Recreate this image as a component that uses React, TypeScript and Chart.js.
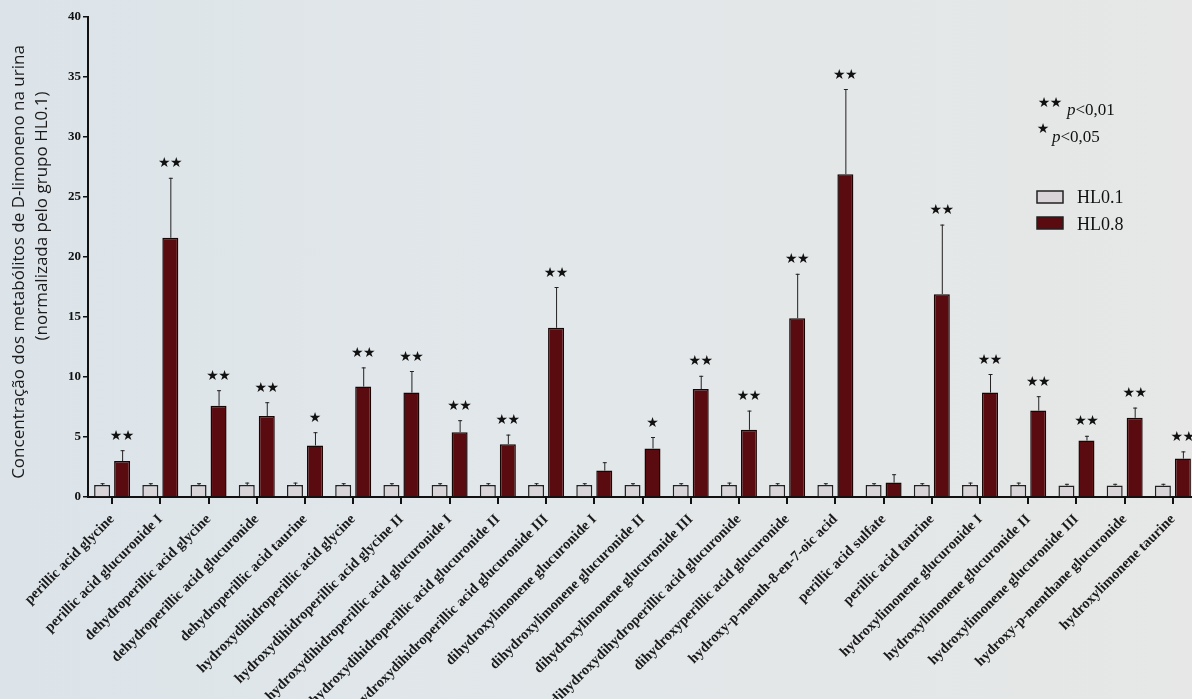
import React, { useEffect, useRef } from "react";
import { Chart, registerables } from "chart.js";
Chart.register(...registerables);

const categories = [
  "perillic acid glycine",
  "perillic acid glucuronide I",
  "dehydroperillic acid glycine",
  "dehydroperillic acid glucuronide",
  "dehydroperillic acid taurine",
  "hydroxydihidroperillic acid glycine",
  "hydroxydihidroperillic acid glycine II",
  "hydroxydihidroperillic acid glucuronide I",
  "hydroxydihidroperillic acid glucuronide II",
  "hydroxydihidroperillic acid glucuronide III",
  "dihydroxylimonene glucuronide I",
  "dihydroxylimonene glucuronide II",
  "dihydroxylimonene glucuronide III",
  "dihydroxydihydroperillic acid glucuronide",
  "dihydroxyperillic acid glucuronide",
  "hydroxy-p-menth-8-en-7-oic acid",
  "perillic acid sulfate",
  "perillic acid taurine",
  "hydroxylimonene glucuronide I",
  "hydroxylimonene glucuronide II",
  "hydroxylimonene glucuronide III",
  "hydroxy-p-menthane glucuronide",
  "hydroxylimonene taurine",
];

const hl01 = [1, 1, 1, 1, 1, 1, 1, 1, 1, 1, 1, 1, 1, 1, 1, 1, 1, 1, 1, 1, 0.95, 0.95, 0.95];
const hl01Err = [0.15, 0.15, 0.15, 0.2, 0.2, 0.15, 0.15, 0.15, 0.15, 0.15, 0.15, 0.15, 0.15, 0.2, 0.15, 0.15, 0.15, 0.15, 0.2, 0.2, 0.15, 0.15, 0.15];
const hl08 = [3.0, 21.6, 7.6, 6.75, 4.3, 9.2, 8.7, 5.4, 4.4, 14.1, 2.2, 4.05, 9.0, 5.6, 14.9, 26.9, 1.2, 16.9, 8.7, 7.2, 4.7, 6.6, 3.2];
const hl08Err = [0.9, 5.0, 1.3, 1.15, 1.1, 1.6, 1.8, 1.0, 0.8, 3.4, 0.7, 0.95, 1.1, 1.6, 3.7, 7.1, 0.7, 5.8, 1.55, 1.2, 0.4, 0.85, 0.6];
const significance = ["**", "**", "**", "**", "*", "**", "**", "**", "**", "**", "", "*", "**", "**", "**", "**", "", "**", "**", "**", "**", "**", "**"];
const seriesNames = ["HL0.1", "HL0.8"];
const yTitleLines = ["Concentração dos metabólitos de D-limoneno na urina", "(normalizada pelo grupo HL0.1)"];
const pLegend = [
  { stars: "**", text: "<0,01" },
  { stars: "*", text: "<0,05" },
];

const LIGHT = "#d9d4d8";
const DARK = "#5a0b10";
const SERIF = "'Liberation Serif', 'DejaVu Serif', serif";

export default function App() {
  const ref = useRef<HTMLCanvasElement>(null);

  useEffect(() => {
    const canvas = ref.current!;
    const drawStars = (ctx: CanvasRenderingContext2D, s: string, cx: number, cy: number, size: number, gap: number) => {
      ctx.save();
      ctx.font = `${size}px 'DejaVu Sans', sans-serif`;
      ctx.textAlign = "center";
      ctx.textBaseline = "middle";
      ctx.fillStyle = "#111";
      const n = s.length;
      for (let k = 0; k < n; k++) {
        const x = cx + (k - (n - 1) / 2) * gap;
        ctx.fillText("★", x, cy);
      }
      ctx.restore();
    };

    const overlay = {
      id: "overlay",
      afterDatasetsDraw(chart: any) {
        const ctx: CanvasRenderingContext2D = chart.ctx;
        const y = chart.scales.y;
        const errs = [hl01Err, hl08Err];
        const vals = [hl01, hl08];
        ctx.save();
        ctx.strokeStyle = "#222";
        ctx.lineWidth = 1;
        for (let d = 0; d < 2; d++) {
          const meta = chart.getDatasetMeta(d);
          meta.data.forEach((bar: any, i: number) => {
            const top = y.getPixelForValue(vals[d][i]);
            const et = y.getPixelForValue(vals[d][i] + errs[d][i]);
            ctx.beginPath();
            ctx.moveTo(bar.x + 0.5, top);
            ctx.lineTo(bar.x + 0.5, et);
            ctx.moveTo(bar.x - 1.5, et + 0.5);
            ctx.lineTo(bar.x + 2.5, et + 0.5);
            ctx.stroke();
            if (d === 1 && significance[i]) {
              drawStars(ctx, significance[i], bar.x, et - 14, 14, 12);
            }
          });
        }
        ctx.restore();

        // y-axis title
        [
          { x: 19, y: 262 },
          { x: 42, y: 216 },
        ].forEach((p, i) => {
          ctx.save();
          ctx.fillStyle = "#1a1a1a";
          ctx.font = "17px 'Open Sans', sans-serif";
          ctx.textAlign = "center";
          ctx.textBaseline = "middle";
          ctx.translate(p.x, p.y);
          ctx.rotate(-Math.PI / 2);
          ctx.fillText(yTitleLines[i], 0, 0);
          ctx.restore();
        });

        // p legend
        const pPos = [
          { sx: 1050, sy: 103, tx: 1067, ty: 115 },
          { sx: 1043, sy: 129, tx: 1052, ty: 142 },
        ];
        pLegend.forEach((p, i) => {
          const pos = pPos[i];
          drawStars(ctx, p.stars, pos.sx, pos.sy, 14, 12);
          ctx.save();
          ctx.fillStyle = "#111";
          ctx.textBaseline = "alphabetic";
          ctx.textAlign = "left";
          ctx.font = `italic 17px ${SERIF}`;
          ctx.fillText("p", pos.tx, pos.ty);
          const w = ctx.measureText("p").width;
          ctx.font = `17px ${SERIF}`;
          ctx.fillText(p.text, pos.tx + w, pos.ty);
          ctx.restore();
        });

        // series legend
        const boxes = [
          { y: 191, fill: LIGHT, ty: 203 },
          { y: 217, fill: DARK, ty: 230 },
        ];
        boxes.forEach((b, i) => {
          ctx.save();
          ctx.fillStyle = b.fill;
          ctx.fillRect(1037, b.y, 26, 12);
          ctx.strokeStyle = "#222";
          ctx.lineWidth = 1.5;
          ctx.strokeRect(1037, b.y, 26, 12);
          ctx.fillStyle = "#111";
          ctx.font = `18px ${SERIF}`;
          ctx.textAlign = "left";
          ctx.textBaseline = "alphabetic";
          ctx.fillText(seriesNames[i], 1077, b.ty);
          ctx.restore();
        });
      },
    };

    const chart = new Chart(canvas, {
      type: "bar",
      data: {
        labels: categories,
        datasets: [
          {
            label: seriesNames[0],
            data: hl01,
            backgroundColor: LIGHT,
            borderColor: "#222",
            borderWidth: 1.5,
            categoryPercentage: 0.83,
            barPercentage: 0.8,
          },
          {
            label: seriesNames[1],
            data: hl08,
            backgroundColor: DARK,
            borderColor: "#1a0505",
            borderWidth: 1.5,
            categoryPercentage: 0.83,
            barPercentage: 0.8,
          },
        ],
      },
      options: {
        responsive: false,
        animation: false,
        layout: { padding: { top: 17, right: 3, left: 0, bottom: 0 } },
        plugins: { legend: { display: false }, tooltip: { enabled: false } },
        scales: {
          x: {
            afterFit: (s: any) => {
              s.height = 202;
            },
            border: { display: true, color: "#111", width: 2 },
            grid: {
              offset: false,
              drawOnChartArea: false,
              drawTicks: true,
              tickLength: 7,
              color: "#111",
              lineWidth: 2,
            },
            ticks: {
              autoSkip: false,
              maxRotation: 45,
              minRotation: 45,
              padding: 7,
              color: "#1a1a1a",
              font: { family: SERIF, size: 14.5, weight: "bold" },
            },
          },
          y: {
            min: 0,
            max: 40,
            afterFit: (s: any) => {
              s.width = 88;
            },
            border: { display: true, color: "#111", width: 2 },
            grid: {
              drawOnChartArea: false,
              drawTicks: true,
              tickLength: 5,
              color: "#111",
              lineWidth: 1.5,
            },
            ticks: {
              stepSize: 5,
              padding: 2,
              color: "#111",
              font: { family: SERIF, size: 13, weight: "bold" },
            },
          },
        },
      },
      plugins: [overlay],
    } as any);
    return () => chart.destroy();
  }, []);

  return (
    <div
      style={{
        position: "absolute",
        left: 0,
        top: 0,
        width: 1192,
        height: 699,
        overflow: "hidden",
        background: "linear-gradient(90deg, #dce4e9 0%, #e2e7ea 45%, #e6e7e6 100%)",
      }}
    >
      <canvas ref={ref} width={1200} height={699} style={{ display: "block" }} />
    </div>
  );
}
